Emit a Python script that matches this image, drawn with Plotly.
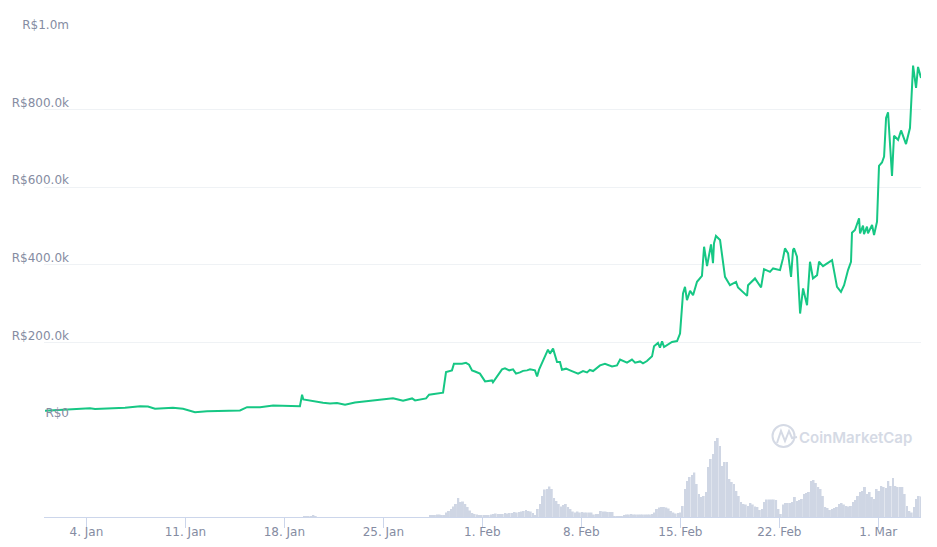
import pandas as pd
import plotly.graph_objects as go

# Harga (ribu R$), hari dihitung sejak 1 Jan
line_days = [0.07, 1.13, 2.19, 3.25, 3.61, 4.31, 5.02, 5.73, 6.8, 7.35, 7.85, 8.2, 9.12, 9.83, 10.68, 11.53, 13.86, 14.36,
             15.28, 16.2, 18.1, 18.25, 18.34, 19.73, 20.23, 20.72, 21.29, 21.99, 22.63, 23.27, 23.97, 24.68, 25.04,
             25.39, 26.03, 26.24, 27.02, 27.23, 28.22, 28.43, 28.85, 28.99, 29.56, 29.84, 30.06, 30.27, 30.48, 30.83,
             31.19, 31.68, 31.75, 32.39, 32.6, 32.9, 33.17, 33.38, 33.66, 33.88, 34.16, 34.37, 34.72, 34.87, 35.01,
             35.43, 35.64, 35.78, 36.0, 36.28, 36.49, 36.63, 36.92, 37.2, 37.48, 37.77, 38.12, 38.4, 38.6, 38.83, 39.32,
             39.67, 40.17, 40.52, 40.74, 41.23, 41.58, 41.8, 42.15, 42.36, 42.64, 43.0, 43.14, 43.42, 43.56, 43.71,
             43.85, 44.41, 44.77, 44.98, 45.19, 45.33, 45.47, 45.69, 45.9, 46.18, 46.53, 46.68, 46.89, 47.17, 47.31,
             47.38, 47.52, 47.81, 48.16, 48.51, 48.94, 49.08, 49.72, 49.79, 50.28, 50.71, 50.92, 51.34, 51.56, 52.05,
             52.26, 52.4, 52.62, 52.83, 52.97, 53.04, 53.25, 53.47, 53.68, 53.96, 54.17, 54.38, 54.67, 54.81, 55.09,
             55.73, 56.08, 56.36, 56.58, 56.86, 57.07, 57.14, 57.35, 57.64, 57.71, 57.92, 57.99, 58.2, 58.27, 58.56,
             58.7, 58.91, 59.05, 59.26, 59.41, 59.55, 59.69, 59.97, 60.11, 60.4, 60.61, 60.96, 61.24, 61.37, 61.46,
             61.67, 61.81, 62.02]
line_values = [23.8, 25.8, 27.1, 30.5, 28.4, 29.2, 31, 31.8, 35.7, 34.9, 28.9, 29.7, 31.5, 28.9, 20.2, 22.7, 24.5, 33.1,
               33.1, 37.5, 35.7, 65.1, 53, 44.4, 42.6, 43.9, 39.3, 45.2, 47.8, 49.6, 51.7, 56.3, 53,
               49.6, 55.6, 50.4, 55.6, 65.1, 70.3, 123.5, 127.9, 145.2, 145.2, 147.3, 142.6, 127.9, 125, 119.4,
               99.5, 102, 96.9, 130.5, 133, 128, 130.5, 119.4, 122.7, 126.6, 127.9, 130.5, 127.9, 112.4, 129.7,
               162.3, 181.4, 171.1, 184, 149.4, 149.4, 129.7, 132.3, 128, 124, 119.4, 126.1, 122.7, 129, 126.1, 140.8,
               144.7, 138, 140.8, 155.6, 147.8, 155.6, 147.8, 151, 146, 151.9, 164.1, 189.9, 198.5, 186.6, 202.8,
               188.1, 201, 203.6, 222.7, 326.1, 343.2, 308.8, 332.8, 321.7, 356.1, 371.6, 446.5, 396.6, 452.7, 404.4,
               455.3, 474.2, 463.8, 369, 347.5, 356.1, 341.6, 319.9, 347.5, 364.9, 341.6, 388.9, 381.9, 390.7, 386.3,
               416.5, 442.4, 429.5, 369, 438, 442.4, 420.7, 274.4, 339, 295.9, 407.8, 364.9, 373.4, 407.8, 396.6,
               412.1, 343.2, 330.2, 347.5, 386.3, 407.8, 482.7, 489.7, 519.9, 481.1, 500.8, 479.3, 498.2, 481.1, 502.6,
               476.7, 511.1, 655, 663.6, 679, 778.3, 792.8, 629.2, 732.6, 722.2, 746.3, 711.1, 752.5, 860, 913.4,
               855.8, 910, 881.6]

# Volume kira-kira tiap 4 jam mulai 19 Jan (satuan relatif)
volume_values = [0.7, 0.7, 1, 1, 1.3, 1] + [0.0] * 48 + [
    1.5, 1.5, 1.5, 2.5, 2.5, 1.5, 1.5, 4.5, 6, 8, 10.5, 13, 19, 15, 15.5, 13, 10, 6.5, 4, 3, 2.5, 2, 2, 2, 1.5, 1.5,
    2.5, 3, 3.5, 3, 3, 3, 4, 3.5, 4, 4, 5, 4.5, 5, 5.5, 6, 7, 6, 5.5, 4, 2, 8, 13, 21, 27.5, 28, 30.5, 28, 19, 16, 13,
    10.5, 12, 13, 10, 8, 5.5, 4.5, 5.5, 4.5, 5, 4.5, 4.5, 4.5, 4.5, 2.5, 3, 3, 6, 5.5, 5.5, 5, 5, 5, 0.3, 0.3,
    0.3, 1, 2, 2.5, 2.5, 3, 2.5, 2.5, 2.5, 2.5, 2.5, 2.5, 2.5, 2.5, 3, 4.5, 8, 9.5, 10, 10, 9.5, 8.5, 6, 4.5, 3.5, 4,
    4.5, 11, 28, 36, 40, 42, 44.5, 33, 23, 20, 21, 25, 50, 58, 63, 76, 79, 71, 51, 55, 55, 38, 35, 33, 26, 21, 15, 13,
    12.5, 11, 14, 12.5, 10.5, 10, 7, 8, 15, 17.5, 17.5, 17.5, 17.5, 17, 8, 3, 12.5, 14, 14, 14, 15, 20, 16, 17, 18, 23,
    24, 25, 36, 37, 34, 30, 28, 21, 10, 9, 7, 8, 9, 10, 13, 14, 12.5, 11, 10.5, 11, 15, 17, 21, 25, 26, 30, 23, 25, 20,
    18, 28, 26, 31, 30, 29, 36, 31, 39, 31, 30, 30, 30, 23, 11, 6, 4.5, 10, 18, 21, 20.5]

y_tick_vals = [0, 200, 400, 600, 800, 1000]
y_tick_labels = ["R$0", "R$200.0k", "R$400.0k", "R$600.0k", "R$800.0k", "R$1.0m"]
x_tick_vals = ["2021-01-04", "2021-01-11", "2021-01-18", "2021-01-25", "2021-02-01", "2021-02-08", "2021-02-15",
               "2021-02-22", "2021-03-01"]
x_tick_labels = ["4. Jan", "11. Jan", "18. Jan", "25. Jan", "1. Feb", "8. Feb", "15. Feb", "22. Feb", "1. Mar"]

start = pd.Timestamp("2021-01-01")
line_dates = start + pd.to_timedelta(line_days, unit="D")
volume_dates = pd.date_range("2021-01-19 09:20", periods=len(volume_values), freq="238min")

W, H = 937, 547
L, R, T, B = 44, 16, 32, 30
text_color = "#858ca2"


# Posisi logo dalam piksel jendela -> koordinat paper
def path_paper(points):
    out = []
    for cmd, px, py in points:
        out.append(f"{cmd}{(px - L) / (W - L - R):.5f},{1 - (py - T) / (H - T - B):.5f}")
    return " ".join(out)


fig = go.Figure()
fig.add_trace(go.Bar(x=volume_dates, y=volume_values, yaxis="y2", marker=dict(color="#cfd6e4", line_width=0),
                     width=3600000 * 3.3))
fig.add_trace(go.Scatter(x=line_dates, y=line_values, mode="lines", line=dict(color="#16c784", width=2)))

fig.update_layout(
    width=W, height=H, margin=dict(l=L, r=R, t=T, b=B), showlegend=False,
    paper_bgcolor="white", plot_bgcolor="white",
    font=dict(family="DejaVu Sans", size=12, color=text_color),
    xaxis=dict(type="date", range=[start, start + pd.Timedelta(days=62.02)], anchor="y2", automargin=False,
               tickvals=x_tick_vals, ticktext=x_tick_labels, tickangle=0, ticks="outside", ticklen=10,
               ticklabelstandoff=-6, tickcolor="#ccd6eb", showline=True, linecolor="#ccd6eb", showgrid=False,
               zeroline=False),
    yaxis=dict(domain=[0.2, 1], range=[0, 1000], tickvals=y_tick_vals, ticktext=y_tick_labels, automargin=False,
               gridcolor="#eff2f5", showline=False, zeroline=False, ticklabelstandoff=-26, ticklabelshift=-7),
    yaxis2=dict(domain=[0, 0.2], range=[0, 97], visible=False),
)

# Watermark
fig.add_shape(type="circle", xref="paper", yref="paper", x0=(772.5 - L) / (W - L - R), x1=(794.5 - L) / (W - L - R),
              y0=1 - (447 - T) / (H - T - B), y1=1 - (425 - T) / (H - T - B), line=dict(color="#d5dae5", width=2))
fig.add_shape(type="path", xref="paper", yref="paper", layer="above", line=dict(color="#d5dae5", width=2),
              path=path_paper([("M", 777, 443), ("L", 781, 431), ("L", 785, 441), ("L", 789, 431), ("L", 792, 438),
                               ("L", 797, 437)]))
fig.add_annotation(text="CoinMarketCap", xref="paper", yref="paper", x=(914 - L) / (W - L - R),
                   y=1 - (437 - T) / (H - T - B), xanchor="right", yanchor="middle", showarrow=False,
                   font=dict(family="Inter", size=15, color="#d5dae5", weight=600))

fig.write_html("out.html", config=dict(displayModeBar=False), post_script="document.body.style.margin='0';")
